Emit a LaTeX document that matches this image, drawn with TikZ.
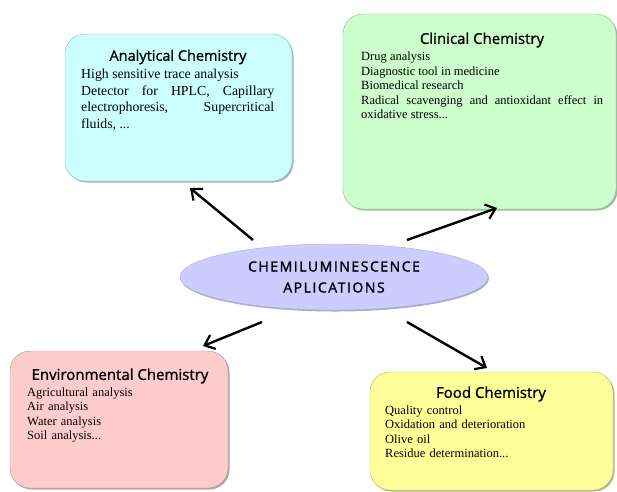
\documentclass[tikz,border=0pt]{standalone}
\usepackage{fontspec}
\setmainfont{Liberation Serif}
\newfontfamily\titlefont{Open Sans}[FakeBold=1.2]
\usetikzlibrary{arrows.meta,shapes.geometric}
\definecolor{anfill}{HTML}{CCFFFF}
\definecolor{clfill}{HTML}{CCFFCC}
\definecolor{enfill}{HTML}{FFCCCC}
\definecolor{fofill}{HTML}{FFFF99}
\definecolor{elfill}{HTML}{CCCCFF}
\hyphenpenalty=10000
\exhyphenpenalty=10000
\tolerance=9999
\tikzset{
  box/.style={rounded corners=20pt, fill=#1, draw=#1!70!black, line width=0.4pt,
     inner sep=0pt},
  shadowbox/.style={rounded corners=20pt, fill=#1!45!gray, inner sep=0pt},
  ttl/.style={font=\titlefont\fontsize{15}{17}\selectfont, inner sep=0pt},
  body/.style={font=\fontsize{12.5}{14.5}\selectfont,
     align=justify, inner sep=0pt, anchor=north west},
  arr/.style={line width=2.4pt, -{Straight Barb[length=9pt,width=15pt,line width=2.2pt]}},
}
\begin{document}
\begin{tikzpicture}[x=1pt,y=-1pt]
\useasboundingbox (0,0) rectangle (617,491);
% Analytical
\node[shadowbox=anfill, minimum width=227pt, minimum height=147pt] at (180,109) {};
\node[box=anfill, minimum width=227pt, minimum height=147pt] (an) at (178.5,107.5) {};
\node[ttl, font=\titlefont\fontsize{14.5}{17}\selectfont] (ant) at (178,57) {Analytical Chemistry};
\node[body, font=\fontsize{13.8}{16.5}\selectfont, text width=193pt] (anb) at (81,69)
 {High sensitive trace analysis\\ Detector for HPLC, Capillary electrophoresis, Supercritical fluids, ...};
% Clinical
\node[shadowbox=clfill, minimum width=273pt, minimum height=195pt] at (481,113) {};
\node[box=clfill, minimum width=273pt, minimum height=195pt] (cl) at (479.5,111.5) {};
\node[ttl] (clt) at (482,40) {Clinical Chemistry};
\node[body, text width=242pt] (clb) at (361,52)
 {Drug analysis\\ Diagnostic tool in medicine\\ Biomedical research\\ Radical scavenging and antioxidant effect in oxidative stress...};
% Environmental
\node[shadowbox=enfill, minimum width=218pt, minimum height=137pt] at (120.5,421) {};
\node[box=enfill, minimum width=218pt, minimum height=137pt] (en) at (119,419.5) {};
\node[ttl] (ent) at (120,376) {Environmental Chemistry};
\node[body, text width=190pt, align=left] (enb) at (27,387.5)
 {Agricultural analysis\\ Air analysis\\ Water analysis\\ Soil analysis...};
% Food
\node[shadowbox=fofill, minimum width=243pt, minimum height=118pt] at (493,432.5) {};
\node[box=fofill, minimum width=243pt, minimum height=118pt] (fo) at (491.5,431) {};
\node[ttl] (fot) at (491,394) {Food Chemistry};
\node[body, text width=210pt, align=left] (fob) at (385,405.5)
 {Quality control\\ Oxidation and deterioration\\ Olive oil\\ Residue determination...};
% Ellipse
\node[ellipse, fill=elfill!60!gray, minimum width=308pt, minimum height=66pt, inner sep=0pt] at (335,278.5) {};
\node[ellipse, fill=elfill, draw=elfill!80!black, line width=0.3pt, minimum width=308pt, minimum height=66pt, inner sep=0pt,
  align=center, font=\titlefont\addfontfeatures{LetterSpace=11,FakeBold=1.6}\fontsize{14}{21}\selectfont] (c) at (334,277)
  {CHEMILUMINESCENCE\\APLICATIONS};
% Arrows
\coordinate (s1) at (253,240); \coordinate (e1) at (190,188);
\coordinate (s2) at (407,240); \coordinate (e2) at (497,208);
\coordinate (s3) at (262,322); \coordinate (e3) at (203,346);
\coordinate (s4) at (407,322); \coordinate (e4) at (487,368);
\draw[arr] (s1) -- (e1);
\draw[arr] (s2) -- (e2);
\draw[arr] (s3) -- (e3);
\draw[arr] (s4) -- (e4);
\end{tikzpicture}
\end{document}
